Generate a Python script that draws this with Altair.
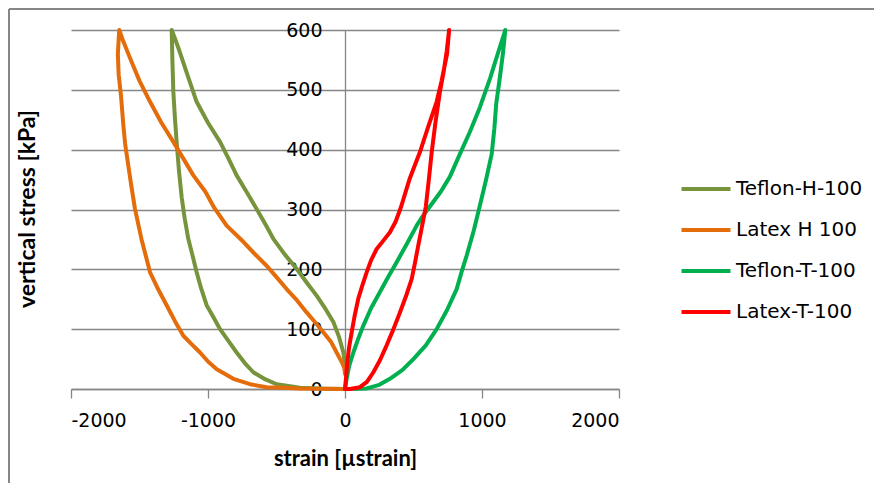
import altair as alt
import pandas as pd

series_names = ["Teflon-H-100", "Latex H 100", "Teflon-T-100", "Latex-T-100"]
series_colors = ["#77933C", "#E46C0A", "#00B050", "#FF0000"]

x_ticks = [-2000, -1000, 0, 1000, 2000]
y_ticks = [0, 100, 200, 300, 400, 500, 600]

teflon_h_strain = [0, -150, -329, -499, -580, -669, -730, -791, -850, -912, -960, -1010, -1050, -1083,
                   -1115, -1144, -1170, -1192, -1212, -1229, -1242, -1253, -1260, -1265,
                   -1240, -1207, -1150, -1083, -1000, -912, -850, -791, -720, -645, -580, -523, -440,
                   -353, -280, -207, -140, -85, -45, -12, -2, 0]
teflon_h_stress = [0, 0.5, 2, 8, 16, 28, 43, 61, 80, 100, 120, 140, 168, 195,
                   225, 251, 285, 320, 365, 413, 455, 497, 550, 600,
                   585, 564, 525, 480, 445, 413, 385, 357, 330, 301, 275, 251, 225,
                   201, 178, 156, 133, 112, 88, 61, 45, 30]

latex_h_strain = [0, -150, -329, -450, -572, -693, -815, -936, -1000, -1058, -1120, -1180, -1240, -1302,
                  -1360, -1423, -1485, -1533, -1560, -1582, -1605, -1618, -1635, -1652, -1658, -1648,
                  -1625, -1569, -1500, -1423, -1340, -1253, -1180, -1107, -1020, -955, -864, -742, -660,
                  -572, -500, -426, -350, -280, -220, -158, -100, -61, -24, -5, 0]
latex_h_stress = [0, 0.5, 1, 2, 3, 8, 17, 33, 46, 61, 75, 89, 113, 140,
                  165, 195, 250, 301, 340, 374, 410, 441, 490, 525, 560, 600,
                  585, 553, 515, 480, 445, 413, 385, 357, 330, 303, 273, 246, 226,
                  206, 187, 167, 148, 128, 112, 95, 78, 61, 45, 35, 25]

teflon_t_strain = [0, 37, 158, 250, 328, 420, 499, 590, 669, 745, 815, 850, 888, 940, 985, 1030, 1071,
                   1090, 1104, 1130, 1153, 1170,
                   1131, 1060, 985, 912, 839, 766, 700, 610, 565, 523, 450, 377, 315, 255, 190, 134, 95,
                   61, 30, 12, 0]
teflon_t_stress = [0, 0, 1, 7, 17, 32, 50, 73, 100, 132, 167, 195, 223, 265, 307, 350, 393,
                   435, 477, 520, 561, 600,
                   572, 520, 471, 430, 393, 355, 330, 302, 288, 273, 242, 212, 187, 162, 135, 106, 83,
                   61, 38, 17, 0]

latex_t_strain = [0, 37, 109, 160, 207, 255, 304, 350, 401, 445, 487, 510, 535, 565, 590, 612, 633,
                  660, 693, 720, 742, 760,
                  745, 705, 669, 610, 547, 470, 410, 370, 328, 280, 231, 190, 158, 125, 97, 70, 49,
                  30, 17, 8, 0]
latex_t_stress = [0, 0, 3, 12, 28, 48, 73, 98, 128, 155, 184, 210, 240, 275, 305, 350, 396,
                  445, 497, 530, 564, 600,
                  560, 515, 480, 440, 396, 350, 305, 280, 262, 248, 234, 215, 195, 172, 151, 122, 95,
                  70, 45, 20, 0]

all_strain = [teflon_h_strain, latex_h_strain, teflon_t_strain, latex_t_strain]
all_stress = [teflon_h_stress, latex_h_stress, teflon_t_stress, latex_t_stress]

rows = []
for name, xs, ys in zip(series_names, all_strain, all_stress):
    for i, (sx, sy) in enumerate(zip(xs, ys)):
        rows.append({"series": name, "strain": sx, "stress": sy, "idx": i})
df = pd.DataFrame(rows)

W, H = 548, 359
GRAY = "#868686"
FONT = "DejaVu Sans"

x_scale = alt.Scale(domain=[-2000, 2000], nice=False, zero=False)
y_scale = alt.Scale(domain=[0, 600], nice=False)

lines = alt.Chart(df).mark_line(strokeWidth=4, strokeJoin="round", strokeCap="round").encode(
    x=alt.X("strain:Q", scale=x_scale,
            axis=alt.Axis(values=x_ticks, title="strain [µstrain]", labelExpr="'' + datum.value",
                          grid=False, domainColor=GRAY, domainWidth=1.3, tickColor=GRAY, tickWidth=1.3,
                          tickSize=9, labelPadding=13, labelFont=FONT, labelFontSize=19,
                          labelColor="#000000", titleFont="Lato", titleFontSize=22, titleFontWeight="bold",
                          titleColor="#000000", titlePadding=18)),
    y=alt.Y("stress:Q", scale=y_scale,
            axis=alt.Axis(values=y_ticks, title="vertical stress [kPa]", offset=-W / 2,
                          grid=True, gridColor=GRAY, gridWidth=1.3, domainColor=GRAY, domainWidth=1.3,
                          ticks=False, tickSize=0, labelPadding=23, labelFont=FONT, labelFontSize=19,
                          labelColor="#000000", titleFont="Lato", titleFontSize=23, titleFontWeight="bold",
                          titleColor="#000000", titleX=-318, titleY=H / 2 - 1, titleBaseline="middle",
                          titleAngle=270)),
    color=alt.Color("series:N", scale=alt.Scale(domain=series_names, range=series_colors),
                    legend=alt.Legend(title=None, orient="none", legendX=623, legendY=147,
                                      symbolType="M-2.45,0H2.45", symbolSize=400, symbolStrokeWidth=4,
                                      labelFont=FONT, labelFontSize=20, labelColor="#000000",
                                      labelOffset=18, rowPadding=19, padding=0, labelLimit=300)),
    order=alt.Order("idx:Q"),
)

frame_df = pd.DataFrame({"k": [0]})
left_border = alt.Chart(frame_df).mark_rule(color=GRAY, strokeWidth=2).encode(
    x=alt.value(-62), y=alt.value(-21), y2=alt.value(H + 94))
top_border = alt.Chart(frame_df).mark_rule(color=GRAY, strokeWidth=2).encode(
    x=alt.value(-62), x2=alt.value(W + 255), y=alt.value(-21))

chart = alt.layer(lines, left_border, top_border).properties(
    width=W, height=H,
    padding={"left": 63, "top": 22, "right": 255, "bottom": 94},
    autosize=alt.AutoSizeParams(type="none"),
    background="white",
).configure_view(stroke=None)

chart.save("out.html", embed_options={"renderer": "svg", "actions": False})
